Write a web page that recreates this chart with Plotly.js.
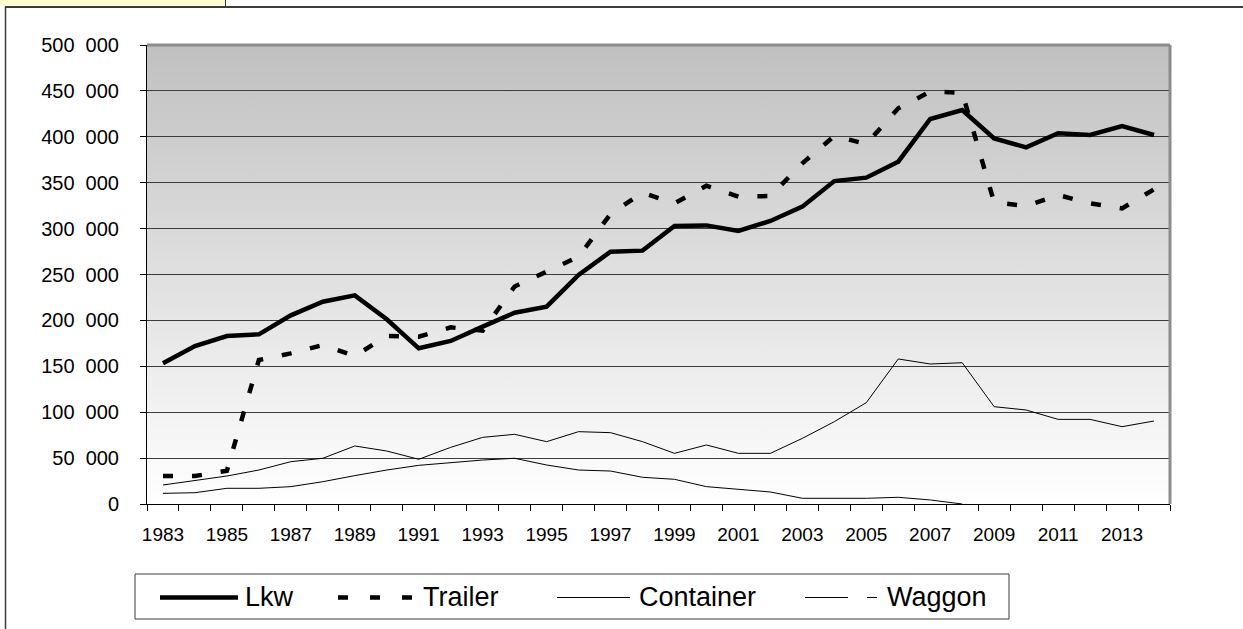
<!DOCTYPE html>
<html>
<head>
<meta charset="utf-8">
<script src="https://cdn.plot.ly/plotly-3.0.1.min.js"></script>
<style>
  html, body { margin: 0; padding: 0; background: #ffffff; }
  #chart { width: 1243px; height: 629px; }
</style>
</head>
<body>
<div id="chart"></div>
<script>
// ---------- data ----------
const years = [1983,1984,1985,1986,1987,1988,1989,1990,1991,1992,1993,1994,1995,1996,1997,1998,
               1999,2000,2001,2002,2003,2004,2005,2006,2007,2008,2009,2010,2011,2012,2013,2014];

const seriesNames = ['Lkw', 'Trailer', 'Container', 'Waggon'];

const lkw = [153300,172100,183000,184800,205500,220400,227300,201200,169600,177600,193200,208400,
             214900,249500,274900,276000,302800,303500,297400,308300,323900,351800,355500,372900,
             419400,429200,398300,388500,403800,402000,411700,402000];

const trailer = [30500,30500,36300,156900,164100,173200,161200,183000,182300,192400,188800,237000,
                 253100,269400,315900,339100,327500,346700,334800,335500,371100,400900,392200,431000,
                 449200,448100,328600,324600,336600,327500,322000,342800];

const container = [20700,25400,30500,37000,46100,49800,63200,57700,48700,61700,72600,75900,
                   67900,78800,77700,67900,55200,64300,55200,55200,71500,89700,110400,158000,
                   152500,153900,106000,102400,92200,92200,84200,90400];

const waggon = [11600,12300,17100,17100,18900,24300,30900,37000,42100,45400,47900,49800,
                42500,37000,35900,29100,26900,18900,16000,13100,6200,6200,6200,7300,
                4400,0,null,null,null,null,null,null];

const xTickVals = [1983,1985,1987,1989,1991,1993,1995,1997,1999,2001,2003,2005,2007,2009,2011,2013];
const xTickLabels = ['1983','1985','1987','1989','1991','1993','1995','1997','1999','2001','2003','2005','2007','2009','2011','2013'];

const yTickVals = [0,50000,100000,150000,200000,250000,300000,350000,400000,450000,500000];
const yTickLabels = ['0','50\u00a0\u00a0000','100\u00a0\u00a0000','150\u00a0\u00a0000','200\u00a0\u00a0000',
                     '250\u00a0\u00a0000','300\u00a0\u00a0000','350\u00a0\u00a0000','400\u00a0\u00a0000',
                     '450\u00a0\u00a0000','500\u00a0\u00a0000'];

// ---------- styles ----------
const seriesValues = [lkw, trailer, container, waggon];
const lineStyles = [
  {color: '#000000', width: 4.5, dash: 'solid'},
  {color: '#000000', width: 4.5, dash: '10px,19px'},
  {color: '#000000', width: 1, dash: 'solid'},
  {color: '#000000', width: 1, dash: 'solid'}
];
const legendSamples = [
  {x0: 160, x1: 238, textX: 243, width: 4.5, dash: 'solid'},
  {x0: 338, x1: 412, textX: 421, width: 4.5, dash: '10px,22px'},
  {x0: 557, x1: 630, textX: 637, width: 1, dash: 'solid'},
  {x0: 805, x1: 880, textX: 885, width: 1, dash: '43px,19px,10px,20px'}
];

// ---------- geometry helpers (pixel -> paper) ----------
const W = 1243, H = 629;
const M = {l: 147, r: 73, t: 45, b: 125};
const PW = W - M.l - M.r, PH = H - M.t - M.b;
const px = v => (v - M.l) / PW;
const py = v => (H - M.b - v) / PH;

const FONT = 'Liberation Sans, Arial, Helvetica, sans-serif';

const traces = seriesNames.map((name, i) => ({
  type: 'scatter',
  mode: 'lines',
  name: name,
  x: years,
  y: seriesValues[i],
  line: {color: lineStyles[i].color, width: lineStyles[i].width, dash: lineStyles[i].dash},
  connectgaps: false,
  showlegend: false,
  hoverinfo: 'x+y+name'
}));

const gradSvg = '<svg xmlns="http://www.w3.org/2000/svg" width="100" height="100" preserveAspectRatio="none">' +
  '<defs><linearGradient id="g" x1="0" y1="0" x2="0" y2="1">' +
  '<stop offset="0" stop-color="#c0c0c0"/><stop offset="1" stop-color="#ffffff"/>' +
  '</linearGradient></defs><rect width="100" height="100" fill="url(#g)"/></svg>';

const shapes = [
  // yellow tab at top-left
  {type: 'rect', xref: 'paper', yref: 'paper', x0: px(0), x1: px(225), y0: py(5), y1: py(0),
   fillcolor: '#fffccc', line: {width: 0}, layer: 'above'},
  {type: 'line', xref: 'paper', yref: 'paper', x0: px(225.5), x1: px(225.5), y0: py(7), y1: py(0),
   line: {color: '#333333', width: 1}},
  // outer frame (top and left)
  {type: 'line', xref: 'paper', yref: 'paper', x0: px(5), x1: px(1243), y0: py(7), y1: py(7),
   line: {color: '#3c3c3c', width: 2}},
  {type: 'line', xref: 'paper', yref: 'paper', x0: px(5.5), x1: px(5.5), y0: py(7), y1: py(629),
   line: {color: '#3c3c3c', width: 1.5}},
  // plot area border top & right (gray)
  {type: 'line', xref: 'paper', yref: 'paper', x0: 0, x1: 1, y0: 1, y1: 1,
   line: {color: '#8c8c8c', width: 3}, layer: 'above'},
  {type: 'line', xref: 'paper', yref: 'paper', x0: 1, x1: 1, y0: 0, y1: 1,
   line: {color: '#8c8c8c', width: 3}, layer: 'above'},
  // legend box
  {type: 'rect', xref: 'paper', yref: 'paper', x0: px(135), x1: px(1009), y0: py(619), y1: py(574),
   line: {color: '#3c3c3c', width: 1}, fillcolor: 'rgba(0,0,0,0)'}
];

const annotations = [];
seriesNames.forEach((name, i) => {
  const s = legendSamples[i];
  shapes.push({type: 'line', xref: 'paper', yref: 'paper', x0: px(s.x0), x1: px(s.x1),
               y0: py(597.5), y1: py(597.5),
               line: {color: lineStyles[i].color, width: s.width, dash: s.dash}});
  annotations.push({xref: 'paper', yref: 'paper', x: px(s.textX), y: py(597), text: name,
                    showarrow: false, xanchor: 'left', yanchor: 'middle',
                    font: {family: FONT, size: 27, color: '#000000'}});
});

const layout = {
  width: W, height: H,
  margin: M,
  paper_bgcolor: '#ffffff',
  plot_bgcolor: 'rgba(0,0,0,0)',
  font: {family: FONT, color: '#000000'},
  showlegend: false,
  images: [{
    source: 'data:image/svg+xml;charset=utf-8,' + encodeURIComponent(gradSvg),
    xref: 'paper', yref: 'paper', x: 0, y: 1, sizex: 1, sizey: 1,
    sizing: 'stretch', xanchor: 'left', yanchor: 'top', layer: 'below'
  }],
  xaxis: {
    type: 'linear',
    range: [1982.5, 2014.5],
    tickmode: 'array',
    tickvals: xTickVals,
    ticktext: xTickLabels,
    ticks: '',
    ticklabelstandoff: 13,
    tickfont: {family: FONT, size: 19, color: '#000000'},
    showgrid: false,
    zeroline: false,
    showline: true,
    linecolor: '#000000',
    linewidth: 1,
    minor: {tickmode: 'linear', tick0: 1982.5, dtick: 1, ticks: 'outside', ticklen: 6,
            tickcolor: '#000000', tickwidth: 1, showgrid: false},
    fixedrange: true
  },
  yaxis: {
    range: [0, 500000],
    tickmode: 'array',
    tickvals: yTickVals,
    ticktext: yTickLabels,
    ticks: 'outside',
    ticklen: 6,
    tickcolor: '#000000',
    ticklabelstandoff: 17,
    tickfont: {family: FONT, size: 20, color: '#000000'},
    showgrid: true,
    gridcolor: '#3c3c3c',
    gridwidth: 1,
    zeroline: false,
    showline: true,
    linecolor: '#000000',
    linewidth: 1,
    fixedrange: true
  },
  shapes: shapes,
  annotations: annotations
};

Plotly.newPlot('chart', traces, layout, {displayModeBar: false, staticPlot: true});
</script>
</body>
</html>
